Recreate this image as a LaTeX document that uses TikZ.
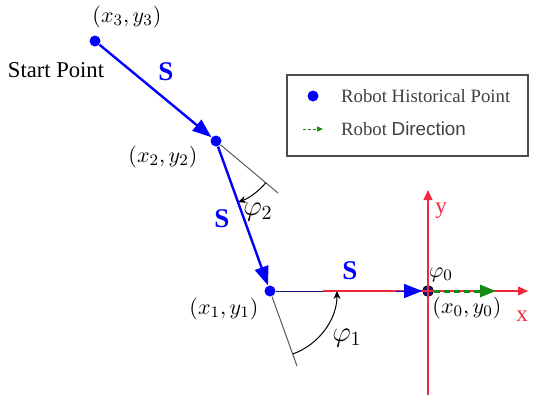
\documentclass[tikz,border=0pt]{standalone}
\usepackage{fontspec}
\setmainfont{Liberation Serif}
\newfontfamily\arialfont{Liberation Sans}
\usetikzlibrary{angles, arrows.meta}
\definecolor{navy}{RGB}{20,20,120}
\definecolor{axisred}{RGB}{240,40,60}
\definecolor{dirgreen}{RGB}{20,140,20}

\begin{document}
\begin{tikzpicture}[x=0.5pt, y=0.5pt,
    point/.style={circle, fill=blue, inner sep=0pt, minimum size=5.5pt},
    move/.style={blue, line width=1.2pt, -{Triangle[length=9.5pt,width=7pt]}},
    ext/.style={black!65, line width=0.5pt},
    axis/.style={axisred, line width=0.6pt, -{Triangle[length=5pt,width=4.5pt]}},
    lbl/.style={font=\fontsize{11}{13}\selectfont},
    slbl/.style={blue, font=\fontsize{13.5}{15}\selectfont\bfseries}]
    \useasboundingbox (0,0) rectangle (536,398);

    % Define the points of the path
    \node[point] (p3) at (95,357) {};
    \node[point] (p2) at (216,257) {};
    \node[point] (p1) at (270,107) {};
    \node[point, fill=navy, draw=black, line width=0.3pt] (p0) at (428,107) {};
    \coordinate (e2) at (278,205);
    \coordinate (e1) at (297,32);
    \coordinate (xa) at (323,107);
    \coordinate (xb) at (528,107);
    \coordinate (ya) at (428,3);
    \coordinate (yb) at (428,208);
    \coordinate (g) at (496,107);

    % Extension lines and angles
    \draw[ext] (p2) -- (e2);
    \draw[ext] (p1) -- (e1);
    \draw pic[draw, line width=0.5pt, {Stealth[length=4pt,width=3.5pt]}-, angle radius=32.5pt] {angle=p1--p2--e2};
    \draw pic[draw, line width=0.5pt, -{Stealth[length=4pt,width=3.5pt]}, angle radius=33.5pt] {angle=e1--p1--xa};

    % Axes
    \draw[navy, line width=0.5pt] (p1) -- (xa);
    \draw[axis] (xa) -- (xb);
    \draw[axis] (ya) -- (yb);

    % Robot moves
    \draw[move] (p3) -- (p2);
    \draw[move] (p2) -- (p1);
    \draw[blue, line width=0.5pt, shorten <=60pt, -{Triangle[length=9pt,width=7pt]}] (p1) -- (p0);
    \draw[dirgreen, line width=1.5pt, dash pattern=on 3pt off 2pt, -{Triangle[length=8pt,width=6pt]}] (p0) -- (g);

    % Labels
    \node[lbl] at (127,381) {$(x_3, y_3)$};
    \node[font=\fontsize{11.3}{13}\selectfont] at (56,328) {Start Point};
    \node[lbl] at (163,241) {$(x_2, y_2)$};
    \node[lbl] at (224,89) {$(x_1, y_1)$};
    \node[lbl] at (467,90) {$(x_0, y_0)$};
    \node[slbl] at (166,326) {S};
    \node[slbl] at (222,179) {S};
    \node[slbl] at (350,127) {S};
    \node[font=\fontsize{14}{16}\selectfont] at (258,186) {$\varphi_2$};
    \node[font=\fontsize{14}{16}\selectfont] at (347,60) {$\varphi_1$};
    \node[lbl] at (441,123) {$\varphi_0$};
    \node[axisred, font=\fontsize{11.5}{13}\selectfont] at (441,187) {y};
    \node[axisred, font=\fontsize{11.5}{13}\selectfont] at (522,82) {x};

    % Legend
    \draw[black!70, line width=0.7pt] (287,242) rectangle (528,323);
    \node[point] (lp) at (313,302) {};
    \node[anchor=west, font=\fontsize{9.4}{11}\selectfont, black!75] (lt1) at (334,302) {Robot Historical Point};
    \coordinate (la) at (303,269);
    \coordinate (lb) at (323,269);
    \draw[dirgreen, line width=0.5pt, dash pattern=on 1.5pt off 1pt, -{Triangle[length=3pt,width=2.5pt]}] (la) -- (lb);
    \node[anchor=west, font=\fontsize{9.4}{11}\selectfont, black!75] (lt2) at (334,269) {Robot {\arialfont Direction}};
\end{tikzpicture}
\end{document}
